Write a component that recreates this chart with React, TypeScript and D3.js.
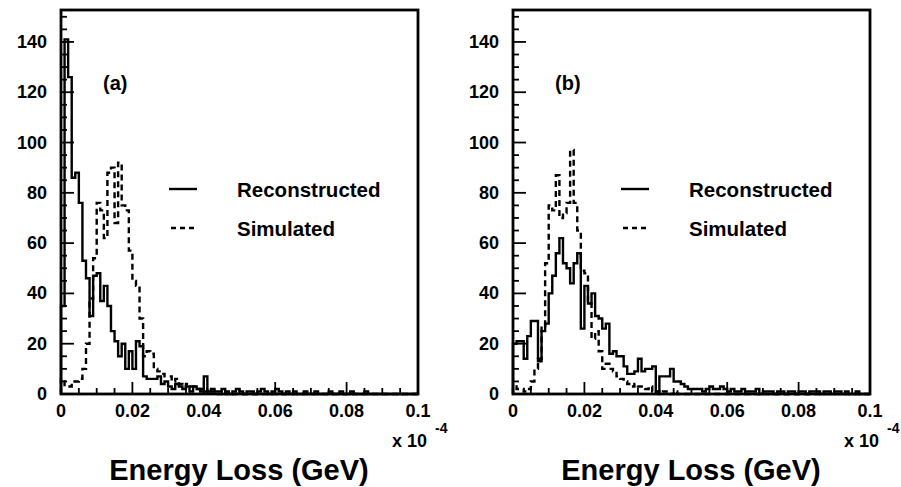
import React from "react";
import * as d3 from "d3";

// bin contents, 100 bins of 0.001 (x 10^-4 GeV) from 0 to 0.1
const recoA = [
  35, 141, 126, 86, 88, 76, 53, 46, 31, 47,
  48, 37, 43, 35, 25, 21, 15, 20, 10, 17,
  10, 21, 19, 7, 6, 6, 6, 7, 4, 5,
  3, 2, 4, 3, 2, 3, 1, 3, 2, 1,
  7, 1, 2, 1, 1, 2, 1, 0, 1, 2,
  1, 0, 1, 1, 0, 1, 2, 1, 0, 1,
  2, 1, 0, 1, 0, 1, 0, 0, 1, 0,
  0, 1, 0, 0, 0, 1, 0, 0, 1, 0,
  0, 1, 0, 0, 0, 1, 0, 0, 0, 0,
  0, 0, 0, 0, 0, 0, 0, 0, 0, 0,
];
const simA = [
  6, 3, 3, 5, 5, 6, 10, 20, 38, 54,
  76, 73, 62, 88, 90, 68, 92, 75, 73, 57,
  45, 43, 30, 15, 17, 16, 10, 9, 8, 7,
  7, 5, 6, 4, 3, 4, 3, 3, 2, 2,
  1, 2, 1, 1, 0, 1, 0, 0, 0, 0,
  0, 0, 0, 0, 0, 0, 0, 0, 0, 0,
  0, 0, 0, 0, 0, 0, 0, 0, 0, 0,
  0, 0, 0, 0, 0, 0, 0, 0, 0, 0,
  0, 0, 0, 0, 0, 0, 0, 0, 0, 0,
  0, 0, 0, 0, 0, 0, 0, 0, 0, 0,
];
const recoB = [
  20, 21, 21, 14, 23, 29, 29, 13, 25, 28,
  40, 47, 56, 62, 52, 50, 44, 52, 56, 26,
  43, 36, 40, 31, 30, 26, 28, 16, 17, 15,
  15, 11, 8, 8, 9, 14, 9, 10, 10, 11,
  1, 7, 7, 7, 10, 5, 5, 4, 3, 2,
  2, 2, 2, 1, 2, 3, 2, 2, 3, 2,
  1, 2, 1, 1, 2, 1, 1, 1, 2, 0,
  1, 1, 1, 0, 1, 1, 0, 1, 1, 0,
  1, 1, 0, 1, 1, 1, 0, 1, 1, 0,
  1, 1, 0, 1, 0, 0, 1, 0, 0, 0,
];
const simB = [
  3, 2, 2, 1, 2, 5, 10, 14, 27, 52,
  75, 73, 87, 70, 72, 76, 97, 76, 65, 49,
  48, 36, 22, 25, 17, 10, 12, 10, 9, 7,
  6, 5, 4, 3, 4, 3, 3, 2, 3, 1,
  1, 0, 1, 1, 0, 1, 0, 0, 0, 0,
  0, 0, 0, 0, 0, 0, 0, 0, 0, 0,
  0, 0, 0, 0, 0, 0, 0, 0, 0, 0,
  0, 0, 0, 0, 0, 0, 0, 0, 0, 0,
  0, 0, 0, 0, 0, 0, 0, 0, 0, 0,
  0, 0, 0, 0, 0, 0, 0, 0, 0, 0,
];

const xTickLabels = ["0", "0.02", "0.04", "0.06", "0.08", "0.1"];
const yTickLabels = ["0", "20", "40", "60", "80", "100", "120", "140"];
const legendLabels = ["Reconstructed", "Simulated"];
const panelLabels = ["(a)", "(b)"];

const BIN = 0.001;
const FONT = "'Liberation Sans', Arial, Helvetica, sans-serif";

const Panel = ({ left, reco, sim, label }: any) => {
  const top = 10;
  const bottom = 394;
  const right = left + 357;
  const x = d3.scaleLinear().domain([0, 0.1]).range([left, right]);
  const y = d3.scaleLinear().domain([0, 152.7]).range([bottom, top]);

  const stepPts = (vals: number[]) => {
    const pts: [number, number][] = [[0, 0]];
    vals.forEach((v, i) => {
      pts.push([i * BIN, v]);
      pts.push([(i + 1) * BIN, v]);
    });
    pts.push([vals.length * BIN, 0]);
    return pts;
  };
  const line = d3
    .line<[number, number]>()
    .x((d) => x(d[0]))
    .y((d) => y(d[1]));

  const xMinor = d3.range(0, 0.1001, 0.005);
  const yMinor = d3.range(0, 151, 5);

  return (
    <g>
      {/* ticks */}
      {xMinor.map((t, i) => (
        <line
          key={"xt" + i}
          x1={x(t)}
          x2={x(t)}
          y1={bottom}
          y2={bottom - (i % 4 === 0 ? 12 : 6)}
          stroke="#000"
          strokeWidth={1.8}
        />
      ))}
      {yMinor.map((t, i) => (
        <line
          key={"yt" + i}
          x1={left}
          x2={left + (i % 4 === 0 ? 13 : 6)}
          y1={y(t)}
          y2={y(t)}
          stroke="#000"
          strokeWidth={1.8}
        />
      ))}
      <path d={line(stepPts(sim)) || ""} fill="none" stroke="#000" strokeWidth={2.4} strokeDasharray="6,4" />
      <path d={line(stepPts(reco)) || ""} fill="none" stroke="#000" strokeWidth={2.4} />
      <rect x={left} y={top} width={right - left} height={bottom - top} fill="none" stroke="#000" strokeWidth={2.8} />

      {xTickLabels.map((t, i) => (
        <text key={"xl" + i} x={x(+t)} y={417} textAnchor="middle" fontSize={18} fontWeight="bold" fontFamily={FONT}>
          {t}
        </text>
      ))}
      {yTickLabels.map((t, i) => (
        <text key={"yl" + i} x={left - 14} y={y(+t) + 6} textAnchor="end" fontSize={18} fontWeight="bold" fontFamily={FONT}>
          {t}
        </text>
      ))}
      <text x={right + 9} y={447} textAnchor="end" fontSize={18} fontWeight="bold" fontFamily={FONT}>x 10</text>
      <text x={right + 17} y={433} fontSize={14} fontWeight="bold" fontFamily={FONT}>-4</text>
      <text x={left + 178} y={480} textAnchor="middle" fontSize={29} fontWeight="bold" fontFamily={FONT}>
        Energy Loss (GeV)
      </text>

      <text x={left + 42} y={90} fontSize={20} fontWeight="bold" fontFamily={FONT}>{label}</text>

      <line x1={left + 108} x2={left + 136} y1={189} y2={189} stroke="#000" strokeWidth={2.4} />
      <line x1={left + 110} x2={left + 136} y1={228} y2={228} stroke="#000" strokeWidth={2.4} strokeDasharray="5,4" />
      <text x={left + 176} y={197} fontSize={20.5} fontWeight="bold" fontFamily={FONT}>{legendLabels[0]}</text>
      <text x={left + 176} y={236} fontSize={20.5} fontWeight="bold" fontFamily={FONT}>{legendLabels[1]}</text>
    </g>
  );
};

export default function App() {
  return (
    <svg width={901} height={487} style={{ position: "absolute", left: 0, top: 0, background: "#fff" }}>
      <rect width={901} height={487} fill="#fff" />
      <Panel left={61} reco={recoA} sim={simA} label={panelLabels[0]} />
      <Panel left={513} reco={recoB} sim={simB} label={panelLabels[1]} />
    </svg>
  );
}
